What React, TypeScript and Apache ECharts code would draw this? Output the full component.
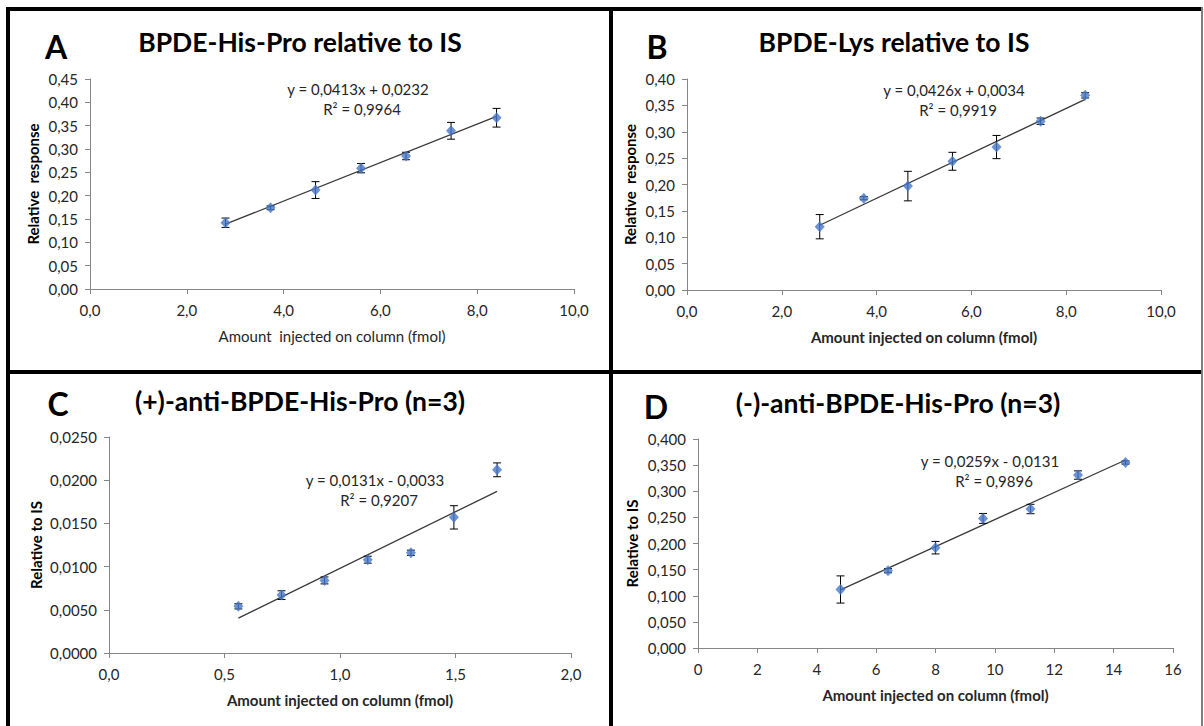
import React, { useEffect, useRef } from "react";
import * as echarts from "echarts";

// Panel A: BPDE-His-Pro relative to IS
const xA = [2.8, 3.73, 4.66, 5.6, 6.53, 7.46, 8.4];
const yA = [0.142, 0.174, 0.212, 0.259, 0.285, 0.339, 0.367];
const eA = [0.01, 0.004, 0.018, 0.01, 0.008, 0.018, 0.02];
const trendA = { slope: 0.0413, intercept: 0.0232 };

// Panel B: BPDE-Lys relative to IS
const xB = [2.8, 3.73, 4.66, 5.6, 6.53, 7.46, 8.4];
const yB = [0.12, 0.174, 0.197, 0.244, 0.271, 0.32, 0.369];
const eB = [0.023, 0.003, 0.028, 0.017, 0.022, 0.006, 0.005];
const trendB = { slope: 0.0426, intercept: 0.0034 };

// Panel C: (+)-anti-BPDE-His-Pro (n=3)
const xC = [0.56, 0.747, 0.933, 1.12, 1.307, 1.493, 1.68];
const yC = [0.0054, 0.0067, 0.0084, 0.0108, 0.0116, 0.0157, 0.0212];
const eC = [0.0003, 0.0005, 0.0004, 0.0004, 0.0003, 0.00135, 0.0008];
const trendC = { slope: 0.0131, intercept: -0.0033 };

// Panel D: (-)-anti-BPDE-His-Pro (n=3)
const xD = [4.8, 6.4, 8.0, 9.6, 11.2, 12.8, 14.4];
const yD = [0.112, 0.148, 0.192, 0.248, 0.266, 0.331, 0.355];
const eD = [0.026, 0.004, 0.012, 0.0095, 0.009, 0.008, 0.003];
const trendD = { slope: 0.0259, intercept: -0.0131 };

const titles = [
  "BPDE-His-Pro relative to IS",
  "BPDE-Lys relative to IS",
  "(+)-anti-BPDE-His-Pro (n=3)",
  "(-)-anti-BPDE-His-Pro (n=3)",
];
const letters = ["A", "B", "C", "D"];
const equations = [
  ["y = 0,0413x + 0,0232", "R² = 0,9964"],
  ["y = 0,0426x + 0,0034", "R² = 0,9919"],
  ["y = 0,0131x - 0,0033", "R² = 0,9207"],
  ["y = 0,0259x - 0,0131", "R² = 0,9896"],
];
const yNames = ["Relative  response", "Relative  response", "Relative to IS", "Relative to IS"];
const xName = "Amount injected on column (fmol)";
const xNameA = "Amount  injected on column (fmol)";

const FONT = "Lato, 'Open Sans', sans-serif";
const BLUE = "#4677c8";
const AXIS = "#868686";
const TXT = "#262626";

const panels = [
  { x: xA, y: yA, e: eA, t: trendA, grid: { left: 90, top: 79, width: 484, height: 210 }, xMax: 10, xInt: 2, xDec: 1, yMax: 0.45, yInt: 0.05, yDec: 2, yGap: 50 },
  { x: xB, y: yB, e: eB, t: trendB, grid: { left: 687, top: 79, width: 474, height: 211 }, xMax: 10, xInt: 2, xDec: 1, yMax: 0.4, yInt: 0.05, yDec: 2, yGap: 50 },
  { x: xC, y: yC, e: eC, t: trendC, grid: { left: 109, top: 437, width: 462, height: 216 }, xMax: 2, xInt: 0.5, xDec: 1, yMax: 0.025, yInt: 0.005, yDec: 4, yGap: 66 },
  { x: xD, y: yD, e: eD, t: trendD, grid: { left: 698, top: 439, width: 475, height: 209 }, xMax: 16, xInt: 2, xDec: 0, yMax: 0.4, yInt: 0.05, yDec: 3, yGap: 59 },
];

const fmt = (v: number, d: number) => v.toFixed(d).replace(".", ",");

export default function App() {
  const ref = useRef<HTMLDivElement>(null);
  useEffect(() => {
    if (!ref.current) return;
    const chart = echarts.init(ref.current, undefined, { renderer: "svg" });

    const grids: any[] = [];
    const xAxes: any[] = [];
    const yAxes: any[] = [];
    const series: any[] = [];

    panels.forEach((p, i) => {
      grids.push({ ...p.grid, containLabel: false });
      xAxes.push({
        type: "value",
        gridIndex: i,
        min: 0,
        max: p.xMax,
        interval: p.xInt,
        splitLine: { show: false },
        axisLine: { show: true, lineStyle: { color: AXIS, width: 1 } },
        axisTick: { show: true, length: 5, lineStyle: { color: AXIS } },
        axisLabel: { color: TXT, fontFamily: FONT, fontSize: 15, margin: 13, formatter: (v: number) => fmt(v, p.xDec) },
        name: i === 0 ? xNameA : xName,
        nameLocation: "middle",
        nameGap: 39,
        nameTextStyle: { color: TXT, fontFamily: FONT, fontSize: 15, fontWeight: i === 0 ? "normal" : "bold" },
      });
      yAxes.push({
        type: "value",
        gridIndex: i,
        min: 0,
        max: p.yMax,
        interval: p.yInt,
        splitLine: { show: false },
        axisLine: { show: true, lineStyle: { color: AXIS, width: 1 } },
        axisTick: { show: true, length: 5, lineStyle: { color: AXIS } },
        axisLabel: { color: TXT, fontFamily: FONT, fontSize: 15, margin: 12, formatter: (v: number) => fmt(v, p.yDec) },
        name: yNames[i],
        nameLocation: "middle",
        nameGap: p.yGap,
        nameTextStyle: { color: "#000", fontFamily: FONT, fontSize: 15, fontWeight: "bold" },
      });

      const x0 = p.x[0];
      const x1 = p.x[p.x.length - 1];
      series.push({
        type: "line",
        xAxisIndex: i,
        yAxisIndex: i,
        data: [
          [x0, p.t.slope * x0 + p.t.intercept],
          [x1, p.t.slope * x1 + p.t.intercept],
        ],
        symbol: "none",
        lineStyle: { color: "#3a3a3a", width: 1.3 },
        z: 2,
      });
      series.push({
        type: "custom",
        xAxisIndex: i,
        yAxisIndex: i,
        data: p.x.map((xv, k) => [xv, p.y[k], p.e[k]]),
        renderItem: (params: any, api: any) => {
          const xv = api.value(0);
          const yv = api.value(1);
          const ev = api.value(2);
          const top = api.coord([xv, yv + ev]);
          const bot = api.coord([xv, yv - ev]);
          const st = { stroke: "#000", lineWidth: 1 };
          const cw = 4;
          return {
            type: "group",
            children: [
              { type: "line", shape: { x1: top[0], y1: top[1], x2: bot[0], y2: bot[1] }, style: st },
              { type: "line", shape: { x1: top[0] - cw, y1: top[1], x2: top[0] + cw, y2: top[1] }, style: st },
              { type: "line", shape: { x1: bot[0] - cw, y1: bot[1], x2: bot[0] + cw, y2: bot[1] }, style: st },
            ],
          };
        },
        z: 3,
      });
      series.push({
        type: "scatter",
        xAxisIndex: i,
        yAxisIndex: i,
        data: p.x.map((xv, k) => [xv, p.y[k]]),
        symbol: "diamond",
        symbolSize: [10, 11],
        itemStyle: { color: BLUE },
        z: 4,
      });
    });

    const graphic: any[] = [];
    // borders
    const blk = { fill: "#000" };
    graphic.push({ type: "rect", shape: { x: 6, y: 7, width: 1196, height: 4 }, style: blk, silent: true });
    graphic.push({ type: "rect", shape: { x: 6, y: 7, width: 4, height: 719 }, style: blk, silent: true });
    graphic.push({ type: "rect", shape: { x: 609, y: 7, width: 4, height: 719 }, style: blk, silent: true });
    graphic.push({ type: "rect", shape: { x: 6, y: 370, width: 1196, height: 4 }, style: blk, silent: true });
    graphic.push({ type: "rect", shape: { x: 1201, y: 7, width: 2, height: 719 }, style: { fill: "#7f7f7f" }, silent: true });

    const titlePos = [
      { tx: 300, ty: 42, lx: 56, ly: 46 },
      { tx: 894, ty: 42, lx: 657, ly: 46 },
      { tx: 300, ty: 401, lx: 58, ly: 403 },
      { tx: 898, ty: 403, lx: 656, ly: 406 },
    ];
    const eqPos = [
      { x: 358, y: 89 },
      { x: 954, y: 90 },
      { x: 375, y: 480 },
      { x: 990, y: 461 },
    ];
    titlePos.forEach((tp, i) => {
      graphic.push({
        type: "text",
        x: tp.tx,
        y: tp.ty,
        style: { text: titles[i], fill: "#000", font: `bold 26.5px ${FONT}`, textAlign: "center", textVerticalAlign: "middle" },
      });
      graphic.push({
        type: "text",
        x: tp.lx,
        y: tp.ly,
        style: { text: letters[i], fill: "#000", font: `bold 32px ${FONT}`, textAlign: "center", textVerticalAlign: "middle" },
      });
      graphic.push({
        type: "text",
        x: eqPos[i].x,
        y: eqPos[i].y,
        style: { text: equations[i][0], fill: TXT, font: `15px ${FONT}`, textAlign: "center", textVerticalAlign: "middle" },
      });
      graphic.push({
        type: "text",
        x: eqPos[i].x + 4,
        y: eqPos[i].y + 20,
        style: { text: equations[i][1], fill: TXT, font: `15px ${FONT}`, textAlign: "center", textVerticalAlign: "middle" },
      });
    });

    chart.setOption({
      animation: false,
      backgroundColor: "#fff",
      grid: grids,
      xAxis: xAxes,
      yAxis: yAxes,
      series,
      graphic,
    });
    return () => chart.dispose();
  }, []);

  return <div ref={ref} style={{ position: "absolute", left: 0, top: 0, width: 1204, height: 726 }} />;
}
